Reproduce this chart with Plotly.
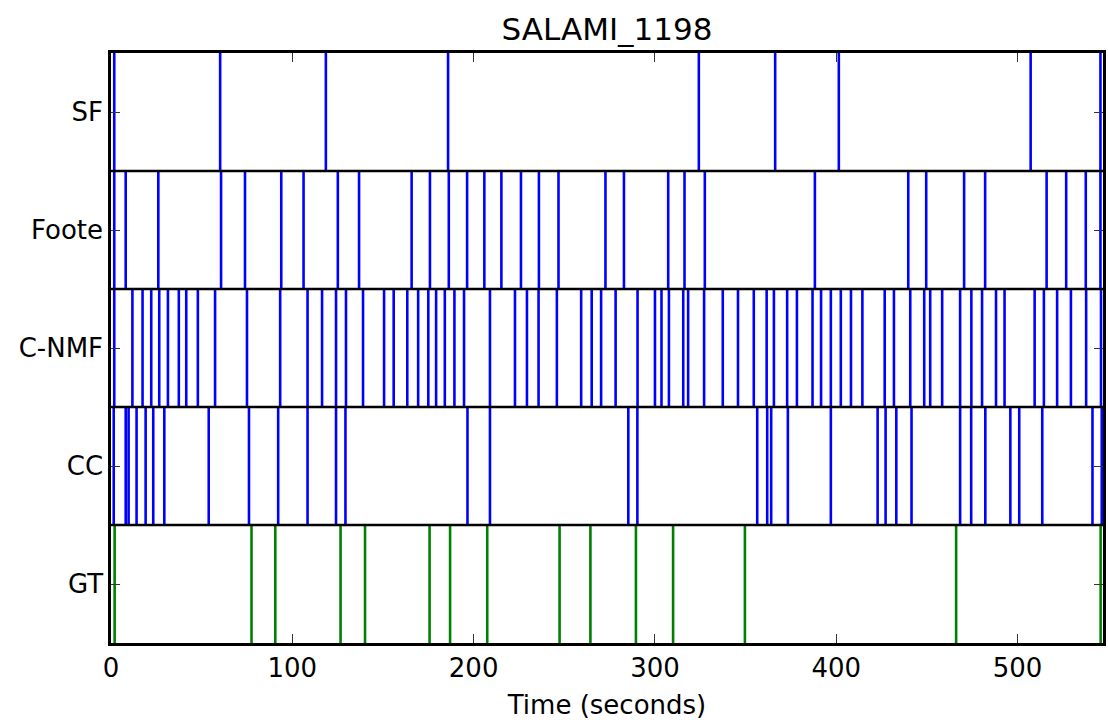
import plotly.graph_objects as go

# ---------------- data (seconds) ----------------
title = "SALAMI_1198"
duration = 547.1
row_labels = ["GT", "CC", "C-NMF", "Foote", "SF"]   # bottom -> top
x_ticks = [0, 100, 200, 300, 400, 500]

sf_bounds = [1.8, 60.2, 118.5, 185.9, 324.2, 366.3, 401.4, 507.2, 545.7]

foote_bounds = [1.8, 8.1, 26.1, 60.7, 73.9, 93.9, 106.2, 125.1, 136.8, 165.8,
                175.9, 186.3, 196.4, 205.9, 215.3, 226.1, 236.0, 246.8, 272.7,
                282.9, 307.3, 316.3, 327.5, 388.2, 439.7, 449.6, 470.5, 482.1,
                516.0, 526.8, 537.6, 545.7]

cnmf_bounds = [1.8, 11.8, 17.4, 22.2, 26.6, 31.4, 37.4, 41.5, 47.9, 57.4, 75.0,
               93.3, 108.4, 116.4, 124.1, 129.6, 139.0, 150.6, 155.9, 163.4,
               169.4, 175.0, 179.3, 184.1, 189.4, 194.7, 209.0, 222.8, 229.4,
               235.8, 245.9, 259.3, 265.1, 270.3, 278.3, 290.4, 300.0, 303.6,
               307.7, 315.6, 318.3, 327.1, 337.4, 345.8, 354.5, 361.6, 365.6,
               372.9, 378.3, 386.9, 391.6, 397.0, 402.5, 408.1, 414.4, 426.7,
               431.8, 440.8, 448.5, 451.8, 458.4, 468.3, 474.5, 480.4, 488.1,
               492.8, 509.4, 514.5, 521.8, 529.4, 537.8, 546.0]

cc_bounds = [1.5, 8.1, 9.7, 14.1, 19.1, 23.3, 29.4, 53.9, 76.1, 92.2, 108.4,
             124.1, 129.3, 196.6, 209.0, 285.3, 290.3, 356.4, 361.9, 364.1,
             373.3, 397.0, 422.8, 427.2, 433.1, 441.5, 468.3, 474.4, 482.2,
             496.0, 500.9, 513.6, 541.3, 546.4]

gt_bounds = [2.0, 77.5, 90.6, 126.6, 140.1, 175.7, 187.0, 207.5, 247.4, 264.4,
             289.5, 310.0, 349.6, 466.1, 545.8]

series = [
    ("GT", gt_bounds, "#008000"),
    ("CC", cc_bounds, "#0000ff"),
    ("C-NMF", cnmf_bounds, "#0000ff"),
    ("Foote", foote_bounds, "#0000ff"),
    ("SF", sf_bounds, "#0000ff"),
]

FONT = "DejaVu Sans"

fig = go.Figure()
for name, times, color in series:
    r = row_labels.index(name)
    xs, ys = [], []
    for t in times:
        xs += [t, t, None]
        ys += [r, r + 1, None]
    fig.add_trace(go.Scatter(x=xs, y=ys, mode="lines", name=name,
                             line=dict(color=color, width=2.6),
                             hoverinfo="skip", showlegend=False))

# row separators
for k in range(1, len(row_labels)):
    fig.add_shape(type="line", xref="paper", yref="y", x0=0, x1=1, y0=k, y1=k,
                  line=dict(color="black", width=2.5), layer="above")

fig.update_layout(
    width=1108, height=720,
    margin=dict(l=111, r=2, t=53, b=75),
    paper_bgcolor="white", plot_bgcolor="white",
    font=dict(family=FONT, color="black", size=26),
    title=dict(text=title, x=0.5, xref="paper", xanchor="center",
               y=1 - 29 / 720, yref="container", yanchor="middle",
               font=dict(family=FONT, size=31, color="black")),
)
fig.update_xaxes(
    range=[0, duration], tickvals=x_ticks, ticktext=[str(v) for v in x_ticks],
    ticks="inside", ticklen=9, tickwidth=1, tickcolor="#333",
    showline=True, linecolor="black", linewidth=2.5, mirror="ticks",
    showgrid=False, zeroline=False,
    tickfont=dict(family=FONT, size=26, color="black"),
    title=dict(text="Time (seconds)", font=dict(family=FONT, size=26, color="black"),
               standoff=17),
)
fig.update_yaxes(
    range=[0, len(row_labels)],
    tickvals=[i + 0.5 for i in range(len(row_labels))], ticktext=row_labels,
    ticks="inside", ticklen=9, tickwidth=1, tickcolor="#333",
    showline=True, linecolor="black", linewidth=2.5, mirror="ticks",
    showgrid=False, zeroline=False,
    tickfont=dict(family=FONT, size=26, color="black"),
)

fig.write_html("out.html")
